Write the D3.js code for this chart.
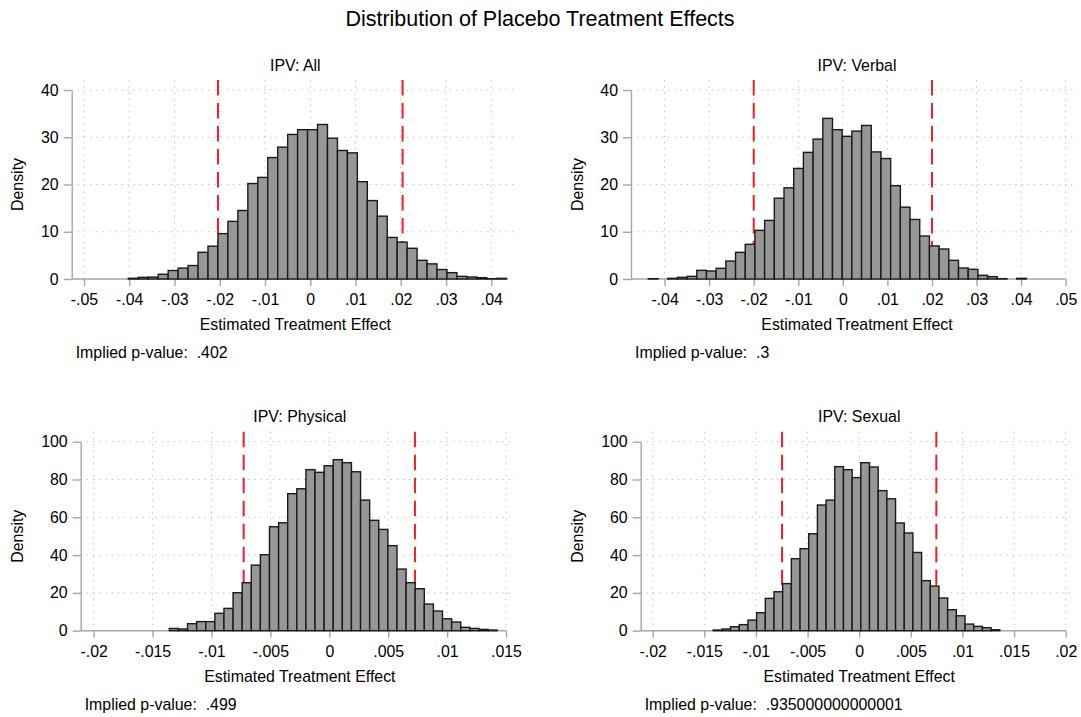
<!DOCTYPE html>
<html>
<head>
<meta charset="utf-8">
<script src="https://cdn.jsdelivr.net/npm/d3@7"></script>
<style>
  body { margin: 0; background: #fff; }
  svg text { font-family: "Liberation Sans", Arial, Helvetica, sans-serif; fill: #000; }
</style>
</head>
<body>
<svg id="chart" width="1081" height="717"></svg>
<script>
// DATA
var panelTitles = ["IPV: All", "IPV: Verbal", "IPV: Physical", "IPV: Sexual"];
var pValues = [".402", ".3", ".499", ".935000000000001"];

// histogram densities, one value per bin, left to right
var allHeights = [0.15, 0.35, 0.4, 1.0, 1.8, 2.3, 2.85, 5.65, 6.95, 9.6,
  12.2, 14.5, 20.2, 21.5, 25.7, 27.9, 30.6, 31.6, 31.6, 32.7,
  29.8, 27.2, 26.7, 20.6, 16.6, 13.3, 8.8, 7.8, 6.5, 3.95,
  3.2, 2.0, 1.34, 0.56, 0.42, 0.28, 0.07, 0.14];
var verbalHeights = [0.07, 0, 0.14, 0.35, 0.56, 1.83, 1.69, 2.26, 3.8, 5.64,
  7.34, 10.3, 12.4, 17.1, 19.3, 23.4, 26.8, 29.6, 34.0, 31.6,
  30.2, 31.3, 32.5, 26.9, 25.5, 19.75, 15.2, 12.6, 9.1, 7.0,
  6.35, 3.95, 2.33, 2.05, 0.78, 0.5, 0.07, 0, 0.14];
var physicalHeights = [1.2, 0.9, 3.7, 4.8, 4.8, 9.2, 11.8, 20.1, 25.4, 34.7,
  40.2, 55.0, 57.1, 72.5, 75.1, 85.2, 83.8, 87.3, 90.5, 88.9,
  84.1, 69.1, 58.4, 53.6, 45.0, 32.6, 25.4, 22.2, 14.1, 10.4,
  6.3, 4.6, 1.8, 1.2, 0.7, 0.35];
var sexualHeights = [0.35, 0.9, 2.1, 3.2, 5.6, 9.5, 17.1, 20.6, 24.9, 38.1,
  43.4, 51.3, 66.5, 69.1, 86.8, 85.2, 81.0, 88.9, 86.6, 74.1,
  69.8, 57.0, 51.7, 41.4, 26.5, 23.6, 17.3, 11.1, 7.9, 3.5,
  2.3, 1.6, 0.5];

var binStarts = [-0.0402, -0.04365, -0.01358, -0.01414];
var binWidths = [0.0022, 0.002175, 0.000773, 0.000841];
var cutoffs = [0.0204, 0.02, 0.00727, 0.00747]; // dashed lines at +/- value

var xTicksAll = [-0.05, -0.04, -0.03, -0.02, -0.01, 0, 0.01, 0.02, 0.03, 0.04];
var xTicksVerbal = [-0.04, -0.03, -0.02, -0.01, 0, 0.01, 0.02, 0.03, 0.04, 0.05];
var xTicksPhysical = [-0.02, -0.015, -0.01, -0.005, 0, 0.005, 0.01, 0.015];
var xTicksSexual = [-0.02, -0.015, -0.01, -0.005, 0, 0.005, 0.01, 0.015, 0.02];
var yTicksTop = [0, 10, 20, 30, 40];
var yTicksBottom = [0, 20, 40, 60, 80, 100];

//LAYOUT (pixels)
var layout = [
  {yAxisX: 71.7,  x0: 84,    x1: 506.7,  yTop: 90,    yBot: 279,   plotTop: 80,    gridRight: 515,  densX: 23},
  {yAxisX: 631,   x0: 648.3, x1: 1065.7, yTop: 90,    yBot: 279,   plotTop: 80,    gridRight: 1075, densX: 583},
  {yAxisX: 80.7,  x0: 93.7,  x1: 506,    yTop: 441.7, yBot: 630.7, plotTop: 431.7, gridRight: 515,  densX: 23},
  {yAxisX: 640.7, x0: 652.7, x1: 1065.7, yTop: 441.7, yBot: 630.7, plotTop: 431.7, gridRight: 1075, densX: 583}
];

var heights = [allHeights, verbalHeights, physicalHeights, sexualHeights];
var xTicks = [xTicksAll, xTicksVerbal, xTicksPhysical, xTicksSexual];
var yTicks = [yTicksTop, yTicksTop, yTicksBottom, yTicksBottom];

var fontSize = 15.9;
var axisColor = "#a6a6a6";
var gridColor = "#b8b8b8";

//stata style numbers: -.05, .005, 0
function stataFmt(v){
  if(Math.abs(v) < 1e-12) return "0";
  return String(+v.toFixed(5)).replace("0.", ".");
}

var svg = d3.select("#chart");

svg.append("text")
  .attr("x", 540)
  .attr("y", 25.7)
  .attr("text-anchor", "middle")
  .style("font-size", "21.5px")
  .text("Distribution of Placebo Treatment Effects");

function drawPanel(p){
  let L = layout[p];
  let h = heights[p];
  let start = binStarts[p];
  let w = binWidths[p];
  let ticks = xTicks[p];
  let binEnd = start + h.length * w;

  let x = d3.scaleLinear()
    .domain([Math.min(ticks[0], start), Math.max(ticks[ticks.length-1], binEnd)])
    .range([L.x0, L.x1]);
  let yt = yTicks[p];
  let y = d3.scaleLinear()
    .domain([0, yt[yt.length-1]])
    .range([L.yBot, L.yTop]);

  let g = svg.append("g");

  //gridlines
  g.selectAll("line.hgrid").data(yt.filter(d => d > 0)).enter().append("line")
    .attr("x1", L.yAxisX).attr("x2", L.gridRight)
    .attr("y1", d => y(d)).attr("y2", d => y(d))
    .style("stroke", gridColor).style("stroke-width", 1)
    .style("stroke-dasharray", "1.2,5");
  g.selectAll("line.vgrid").data(ticks).enter().append("line")
    .attr("x1", d => x(d)).attr("x2", d => x(d))
    .attr("y1", L.plotTop).attr("y2", L.yBot)
    .style("stroke", gridColor).style("stroke-width", 1)
    .style("stroke-dasharray", "1.2,5");

  //y axis
  let yAxis = g.append("g")
    .attr("transform", "translate(" + L.yAxisX + ",0)")
    .call(d3.axisLeft(y).tickValues(yt).tickSize(8).tickSizeOuter(0).tickPadding(5).tickFormat(d3.format("d")));
  yAxis.select(".domain").style("stroke", axisColor).style("stroke-width", 1.4);
  yAxis.selectAll(".tick line").style("stroke", axisColor).style("stroke-width", 1.4);
  yAxis.selectAll("text").style("font-size", fontSize + "px").attr("fill", "#000")
    .style("font-family", "'Liberation Sans', Arial, sans-serif");

  //x axis
  let xAxis = g.append("g")
    .attr("transform", "translate(0," + L.yBot + ")")
    .call(d3.axisBottom(x).tickValues(ticks).tickSize(7).tickPadding(8).tickFormat(stataFmt));
  xAxis.select(".domain").remove();
  xAxis.append("line")
    .attr("x1", L.yAxisX).attr("x2", L.x1)
    .style("stroke", axisColor).style("stroke-width", 1.4);
  xAxis.selectAll(".tick line").style("stroke", axisColor).style("stroke-width", 1.4);
  xAxis.selectAll("text").style("font-size", fontSize + "px").attr("fill", "#000")
    .style("font-family", "'Liberation Sans', Arial, sans-serif");

  //critical value lines, behind the bars
  g.selectAll("line.cut").data([-cutoffs[p], cutoffs[p]]).enter().append("line")
    .attr("x1", d => x(d)).attr("x2", d => x(d))
    .attr("y1", L.plotTop).attr("y2", L.yBot)
    .style("stroke", "#ea2128").style("stroke-width", 2)
    .style("stroke-dasharray", "15.5,7.5");

  //bars (empty bins get no outline)
  g.selectAll("rect.bar").data(h).enter().append("rect")
    .attr("x", (d,i) => x(start + i*w))
    .attr("width", (d,i) => x(start + (i+1)*w) - x(start + i*w))
    .attr("y", d => y(d))
    .attr("height", d => y(0) - y(d))
    .style("fill", "#979797")
    .style("stroke", d => d > 0 ? "#1a1a1a" : "none")
    .style("stroke-width", 1.4);

  //texts
  let mid = (L.x0 + L.x1)/2;
  g.append("text")
    .attr("x", mid).attr("y", L.plotTop - 9.5)
    .attr("text-anchor", "middle")
    .style("font-size", fontSize + "px")
    .text(panelTitles[p]);

  g.append("text")
    .attr("x", mid).attr("y", L.yBot + 51)
    .attr("text-anchor", "middle")
    .style("font-size", fontSize + "px")
    .text("Estimated Treatment Effect");

  g.append("text")
    .attr("transform", "translate(" + L.densX + "," + ((L.yTop + L.yBot)/2) + ") rotate(-90)")
    .attr("text-anchor", "middle")
    .style("font-size", fontSize + "px")
    .text("Density");

  g.append("text")
    .attr("x", L.yAxisX + 4).attr("y", L.yBot + 79)
    .style("font-size", fontSize + "px")
    .style("white-space", "pre")
    .text("Implied p-value:  " + pValues[p]);
}

for(let p = 0; p < 4; p++){
  drawPanel(p);
}
</script>
</body>
</html>
